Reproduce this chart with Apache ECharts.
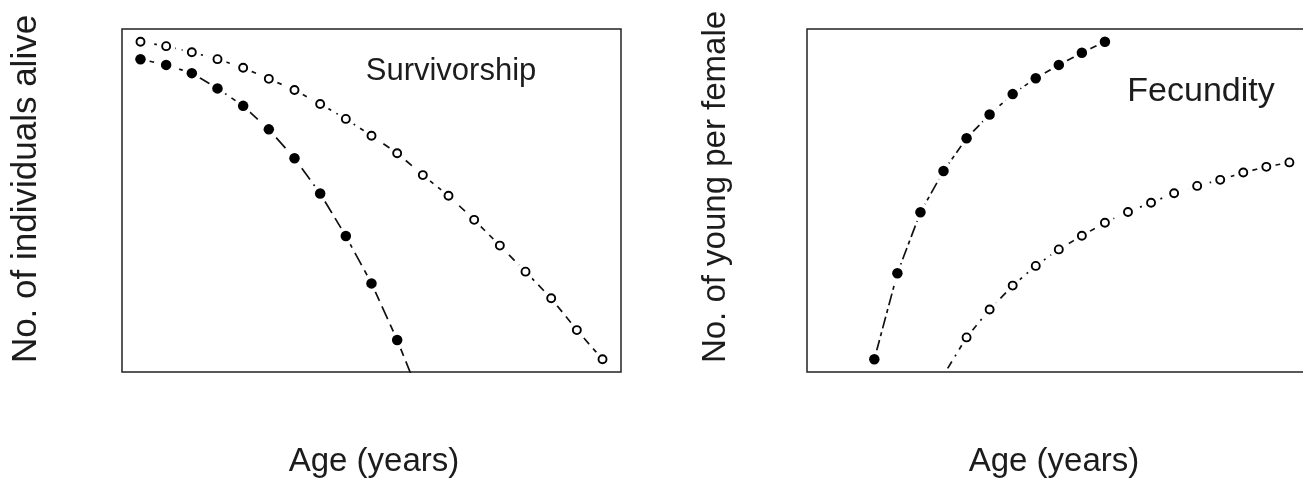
<!DOCTYPE html>
<html>
<head>
<meta charset="utf-8">
<script src="https://cdn.jsdelivr.net/npm/echarts@6/dist/echarts.min.js"></script>
<style>
  html, body { margin: 0; padding: 0; background: #fff; }
  #main { width: 1303px; height: 484px; }
</style>
</head>
<body>
<div id="main"></div>
<script>
// survivorship panel: ages and number alive (relative)
var survAges = [1, 2, 3, 4, 5, 6, 7, 8, 9, 10, 11, 12, 13, 14, 15, 16, 17, 18, 19]
var survOpen = [100, 98.6, 96.7, 94.5, 91.8, 88.3, 84.8, 80.4, 75.7, 70.4, 64.9, 58.0, 51.5, 43.9, 35.8, 27.6, 19.2, 9.2, 0]
var survFilled = [94.5, 92.7, 90.1, 85.3, 79.8, 72.4, 63.3, 52.2, 38.8, 23.9, 6.1, -14]

// fecundity panel
var fecFilledAges = [1, 2, 3, 4, 5, 6, 7, 8, 9, 10, 11]
var fecFilled = [0, 27.1, 46.3, 59.3, 69.6, 77.1, 83.5, 88.5, 92.7, 96.5, 100]
var fecOpenAges = [4, 5, 6, 7, 8, 9, 10, 11, 12, 13, 14, 15, 16, 17, 18, 19]
var fecOpen = [-5, 6.9, 15.7, 23.2, 29.4, 34.6, 38.9, 43.0, 46.4, 49.3, 52.3, 54.6, 56.5, 58.8, 60.6, 62.0]

function pairs(xs, ys) {
  return ys.map(function (y, i) { return [xs[i], y] })
}

var ink = '#111'
var fontFam = '"Liberation Sans", Arial, sans-serif'

// a curve = dashed line + white halo (gap round points) + markers
function curve(idx, xs, ys, dash, filled) {
  var d = pairs(xs, ys)
  return [{
    type: 'line',
    xAxisIndex: idx, yAxisIndex: idx,
    data: d,
    showSymbol: false,
    clip: true,
    silent: true,
    z: 2,
    lineStyle: { color: ink, width: 1.7, type: dash }
  }, {
    type: 'scatter',
    xAxisIndex: idx, yAxisIndex: idx,
    data: d,
    clip: true,
    silent: true,
    z: 3,
    symbol: 'circle',
    symbolSize: 19,
    itemStyle: { color: '#fff', opacity: 1 }
  }, {
    type: 'scatter',
    xAxisIndex: idx, yAxisIndex: idx,
    data: d,
    clip: true,
    silent: true,
    z: 4,
    symbol: 'circle',
    symbolSize: filled ? 10.5 : 8,
    itemStyle: filled
      ? { color: '#000', opacity: 1 }
      : { color: '#fff', borderColor: '#000', borderWidth: 1.9, opacity: 1 }
  }]
}

function label(text, x, y, size, rot) {
  return {
    type: 'text',
    x: x, y: y,
    rotation: rot || 0,
    silent: true,
    style: {
      text: text, x: 0, y: 0,
      font: size + 'px ' + fontFam,
      fill: '#1c1c1c',
      align: 'center', verticalAlign: 'middle',
      textAlign: 'center', textVerticalAlign: 'middle'
    }
  }
}

var myChart = echarts.init(document.getElementById('main'))
myChart.setOption({
  animation: false,
  backgroundColor: '#fff',
  grid: [
    { left: 122, top: 29, width: 499, height: 343, outerBoundsMode: 'none', show: true, borderColor: '#222', borderWidth: 1.5, backgroundColor: 'transparent' },
    { left: 807, top: 29, width: 499, height: 343, outerBoundsMode: 'none', show: true, borderColor: '#222', borderWidth: 1.5, backgroundColor: 'transparent' }
  ],
  xAxis: [
    { type: 'value', gridIndex: 0, min: 0.28, max: 19.72, show: false },
    { type: 'value', gridIndex: 1, min: -1.92, max: 19.72, show: false }
  ],
  yAxis: [
    { type: 'value', gridIndex: 0, min: -4, max: 104, show: false },
    { type: 'value', gridIndex: 1, min: -4, max: 104, show: false }
  ],
  series: [].concat(
    curve(0, survAges, survOpen, [8, 6], false),
    curve(0, survAges, survFilled, [14, 6], true),
    curve(1, fecFilledAges, fecFilled, [4, 4, 12, 4], true),
    curve(1, fecOpenAges, fecOpen, [2, 6, 8, 6], false)
  ),
  graphic: [
    label('No. of individuals alive', 26, 189, 35, Math.PI / 2),
    label('No. of young per female', 716, 187, 33, Math.PI / 2),
    label('Age (years)', 374, 462, 33),
    label('Age (years)', 1054, 462, 33),
    label('Survivorship', 451, 71, 31),
    label('Fecundity', 1201, 92, 34)
  ]
})
</script>
</body>
</html>
